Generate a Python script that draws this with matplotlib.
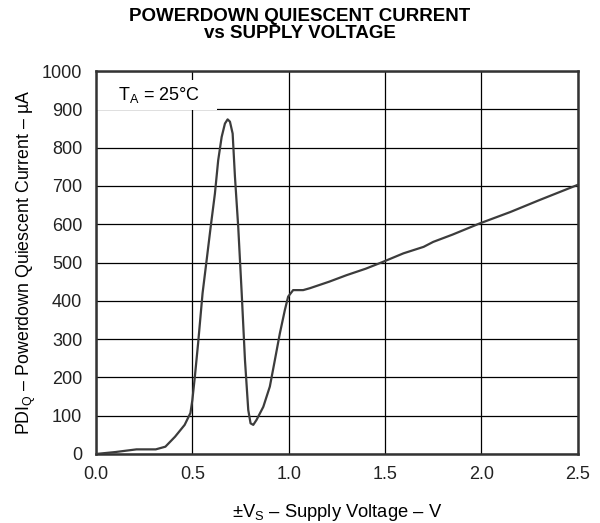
#!/usr/bin/env python3
"""Powerdown quiescent current vs supply voltage (datasheet-style curve)."""
import matplotlib

matplotlib.use("Agg")
import matplotlib.pyplot as plt
from matplotlib.patches import Rectangle

# Curve.
VS = [0.0, 0.10, 0.21, 0.31, 0.36, 0.41, 0.46, 0.49, 0.50, 0.513, 0.53,
      0.553, 0.574, 0.595, 0.617, 0.634, 0.652, 0.669, 0.683, 0.695, 0.709,
      0.721, 0.738, 0.756, 0.773, 0.79, 0.802, 0.816, 0.833, 0.868, 0.902,
      0.928, 0.954, 0.98, 0.997, 1.023, 1.075, 1.11, 1.21, 1.30, 1.40, 1.49,
      1.595, 1.70, 1.75, 1.85, 1.99, 2.15, 2.30, 2.40, 2.50]
IQ = [0, 5, 12, 12, 19, 45, 76, 107, 141, 202, 290,
      420, 506, 593, 680, 767, 828, 863, 874, 868, 837,
      724, 593, 420, 245, 115, 80, 76, 89, 123, 176,
      245, 315, 376, 411, 428, 428, 433, 450, 467, 484, 502,
      524, 541, 554, 573, 602, 632, 663, 683, 703]

X_TICKS = [0.0, 0.5, 1.0, 1.5, 2.0, 2.5]
Y_TICKS = list(range(0, 1001, 100))

plt.rcParams.update({
    "font.family": ["Liberation Sans", "DejaVu Sans"],
    "font.size": 13,
    "mathtext.fontset": "custom",
    "mathtext.rm": "Liberation Sans",
    "mathtext.it": "Liberation Sans",
})

fig = plt.figure(figsize=(6.0, 5.23), dpi=100)
ax = fig.add_axes([0.16, 0.132, 0.803, 0.732])

ax.plot(VS, IQ, color="#3c3c3c", linewidth=1.6, zorder=3)

ax.set_xlim(0, 2.5)
ax.set_ylim(0, 1000)
ax.set_xticks(X_TICKS)
ax.set_xticklabels([f"{v:.1f}" for v in X_TICKS])
ax.set_yticks(Y_TICKS)
ax.grid(True, color="black", linewidth=0.9, zorder=0)
ax.tick_params(length=0, labelsize=13, colors="#222222")
ax.tick_params(axis="x", pad=9)
ax.tick_params(axis="y", pad=10)
for s in ax.spines.values():
    s.set_linewidth(1.8)
    s.set_color("#333333")

# white label box covering the grid in the top-left corner
ax.add_patch(Rectangle((0.0, 0.898), 0.251, 0.079, transform=ax.transAxes,
                       facecolor="white", edgecolor="none", zorder=2))
ax.text(0.046, 0.937, r"T$_\mathrm{A}$ = 25°C", transform=ax.transAxes,
        ha="left", va="center", fontsize=13, zorder=4)

ax.set_xlabel(r"$\pm$V$_\mathrm{S}$ – Supply Voltage – V", fontsize=13.2,
              labelpad=13)
ax.set_ylabel(r"PDI$_\mathrm{Q}$ – Powerdown Quiescent Current – µA",
              fontsize=12.8, labelpad=3)

fig.text(0.5, 0.984, "POWERDOWN QUIESCENT CURRENT\nvs SUPPLY VOLTAGE",
         ha="center", va="top", fontsize=13.5, fontweight="bold",
         linespacing=1.0)

fig.savefig("out.png", dpi=100)
